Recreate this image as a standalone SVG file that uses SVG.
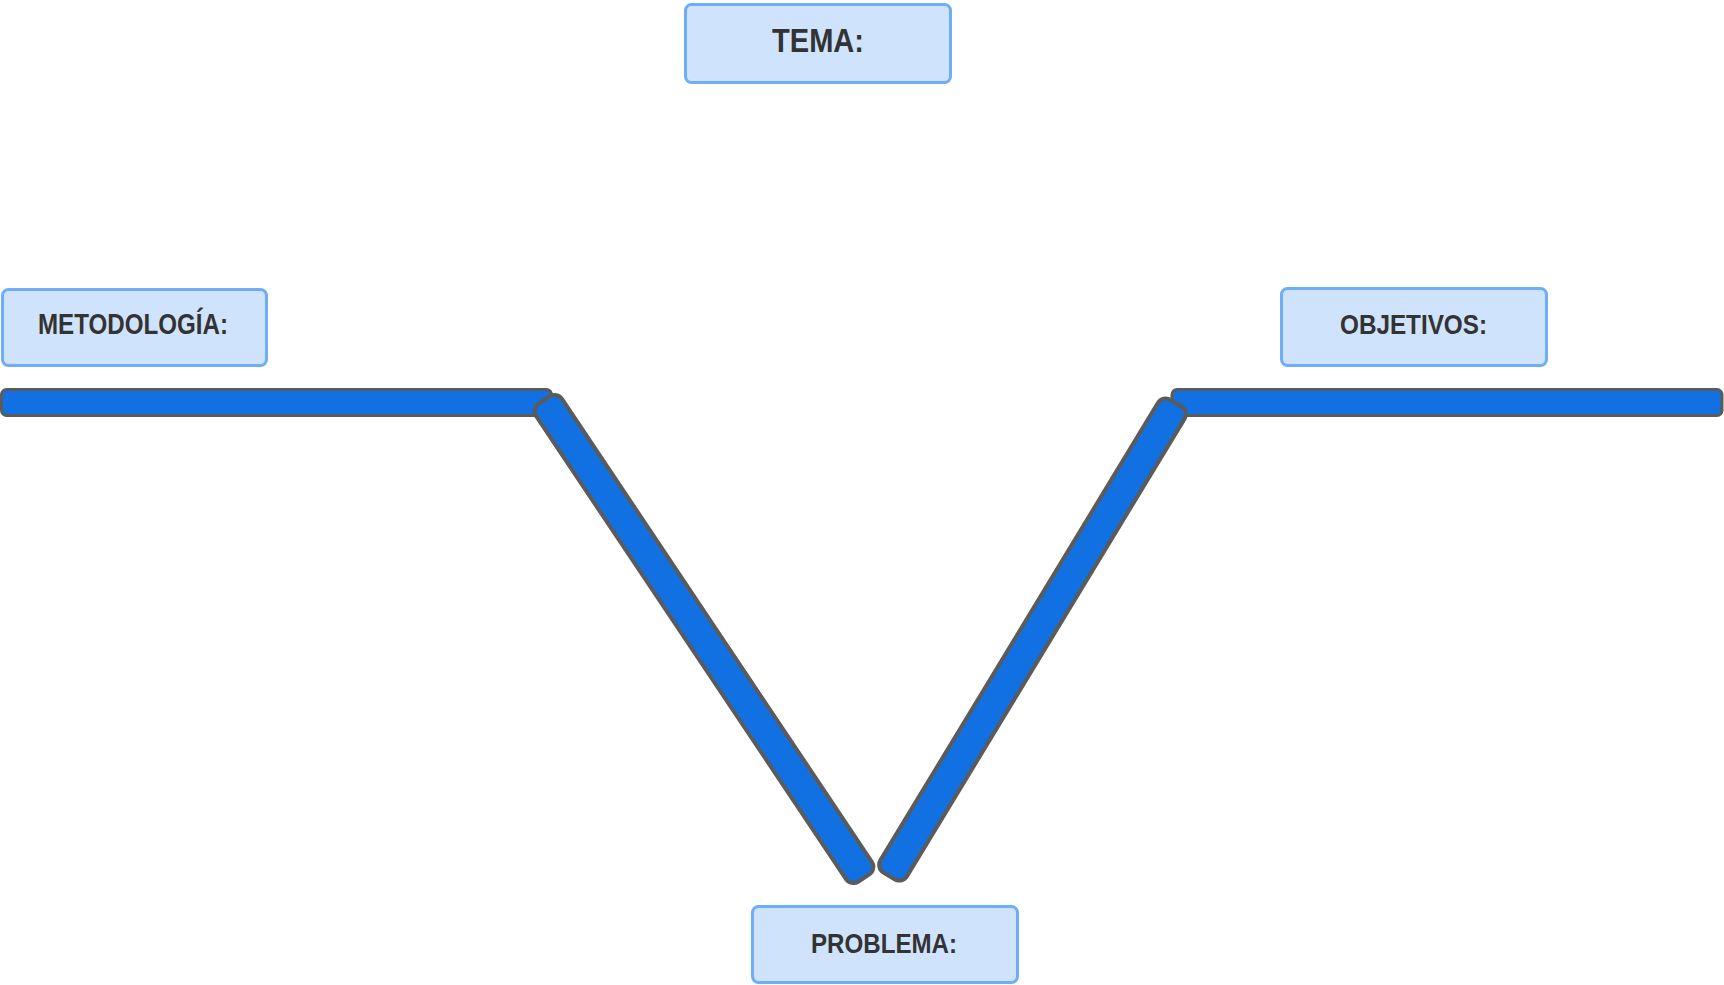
<svg xmlns="http://www.w3.org/2000/svg" width="1724" height="985" viewBox="0 0 1724 985">
<style>
.box{fill:#cfe3fd;stroke:#6eadf8;stroke-width:3}
.lbl{font-family:"Liberation Sans",Arial,sans-serif;font-weight:bold;fill:#333333;text-anchor:middle}
.bar{fill:#1170e2;stroke:#5b5b5b;stroke-width:3}
.diag{fill:#1170e2;stroke:#5b5b5b;stroke-width:4}
</style>
<rect x="0" y="0" width="1724" height="985" fill="#ffffff"/>
<g id="connectors">
<rect class="bar" x="1.5" y="389.5" width="550" height="26" rx="5"/>
<rect class="bar" x="1172" y="389.5" width="550" height="26" rx="5"/>
<rect class="diag" x="-287.5" y="-15.5" width="575" height="31" rx="9" transform="translate(704 639) rotate(56.2)"/>
<rect class="diag" x="-276.5" y="-15.5" width="553" height="31" rx="9" transform="translate(1032.5 639.5) rotate(121.25)"/>
</g>
<g id="tema">
<rect class="box" x="685.5" y="4.5" width="265" height="78" rx="6"/>
<text class="lbl" x="818" y="52" font-size="33" textLength="92" lengthAdjust="spacingAndGlyphs">TEMA:</text>
</g>
<g id="metodologia">
<rect class="box" x="2.5" y="289.5" width="264" height="76" rx="6"/>
<text class="lbl" x="133" y="334" font-size="29" textLength="190" lengthAdjust="spacingAndGlyphs">METODOLOGÍA:</text>
</g>
<g id="objetivos">
<rect class="box" x="1281.5" y="288.5" width="265" height="77" rx="6"/>
<text class="lbl" x="1413.5" y="334" font-size="28" textLength="147" lengthAdjust="spacingAndGlyphs">OBJETIVOS:</text>
</g>
<g id="problema">
<rect class="box" x="752.5" y="906.5" width="265" height="76" rx="6"/>
<text class="lbl" x="884" y="953" font-size="28" textLength="146" lengthAdjust="spacingAndGlyphs">PROBLEMA:</text>
</g>
</svg>
